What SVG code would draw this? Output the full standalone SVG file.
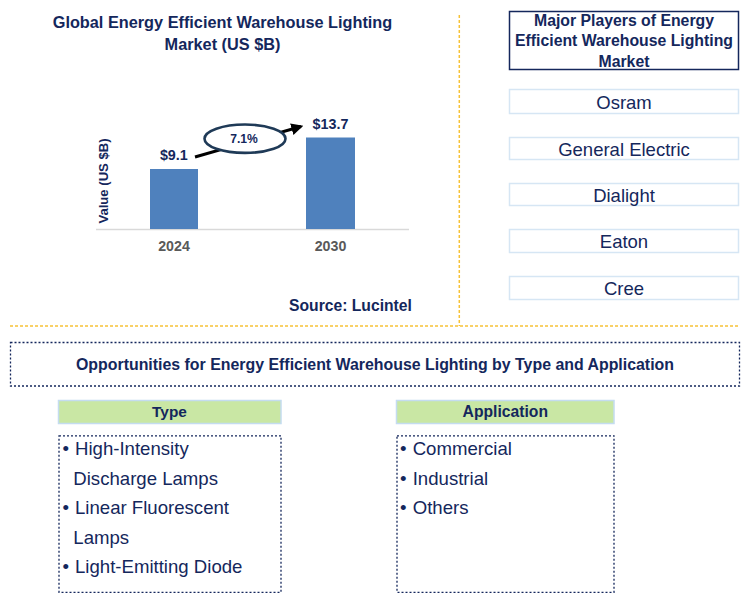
<svg xmlns="http://www.w3.org/2000/svg" width="751" height="609" viewBox="0 0 751 609">
<defs>
<style>
text{font-family:"Liberation Sans",Arial,sans-serif;fill:#14275c}
.b{font-weight:bold}
.t16{font-size:16px;font-weight:bold}
.lab{font-size:14.3px;font-weight:bold;text-anchor:middle}
.yr{font-size:14.2px;font-weight:bold;fill:#595959;text-anchor:middle}
.pl{font-size:18.5px;text-anchor:middle}
.li{font-size:18.6px}
.bu{font-size:18.6px;text-anchor:middle}
.gold{stroke:#f7c236;stroke-width:1.5;stroke-dasharray:3 2;fill:none}
.dot{fill:none;stroke:#14275c;stroke-width:1.3;stroke-dasharray:2 2}
.pbox{fill:#fff;stroke:#d6e6f4;stroke-width:1.5}
.hdr{fill:#c9e7a4;stroke:#c4dcf0;stroke-width:1.5}
.bar{fill:#4f81bd}
</style>
<marker id="ah" viewBox="0 0 10 10" refX="8" refY="5" markerWidth="4" markerHeight="4" orient="auto" markerUnits="strokeWidth">
<path d="M0,0 L10,5 L0,10 z" fill="#000"/>
</marker>
</defs>
<rect width="751" height="609" fill="#fff"/>

<g id="dividers">
<line class="gold" x1="459.3" y1="15" x2="459.3" y2="326"/>
<line class="gold" x1="10" y1="326" x2="740" y2="326"/>
</g>

<g id="chart">
<text class="t16" x="222.5" y="28" text-anchor="middle" style="font-size:16.3px">Global Energy Efficient Warehouse Lighting</text>
<text class="t16" x="222.5" y="50" text-anchor="middle" style="font-size:16.3px">Market (US $B)</text>
<text class="b" transform="translate(107.5,181) rotate(-90)" text-anchor="middle" style="font-size:13.1px">Value (US $B)</text>
<line x1="96" y1="229.5" x2="409" y2="229.5" stroke="#d9d9d9" stroke-width="1.5"/>
<rect class="bar" x="150" y="169" width="48" height="60"/>
<rect class="bar" x="306" y="137.5" width="49" height="91.5"/>
<text class="lab" x="173.8" y="159.5">$9.1</text>
<text class="lab" x="330.5" y="128.5">$13.7</text>
<text class="yr" x="174" y="250.5">2024</text>
<text class="yr" x="330.5" y="250.5">2030</text>
<text class="b" x="289" y="311" style="font-size:15.7px">Source: Lucintel</text>
</g>

<g id="connectors">
<line x1="195" y1="157" x2="301" y2="126.5" stroke="#000" stroke-width="3" marker-end="url(#ah)"/>
</g>

<g id="cagr">
<ellipse cx="245" cy="138.7" rx="40.5" ry="14.2" fill="#fff" stroke="#1f3a57" stroke-width="2.6"/>
<text class="b" x="244" y="143" text-anchor="middle" style="font-size:12.1px">7.1%</text>
</g>

<g id="players-header">
<rect x="509.5" y="11.5" width="229" height="58" fill="#fff" stroke="#14275c" stroke-width="1.5"/>
<text class="t16" x="624" y="25.5" text-anchor="middle" style="font-size:15.8px">Major Players of Energy</text>
<text class="t16" x="624" y="46" text-anchor="middle" style="font-size:15.8px">Efficient Warehouse Lighting</text>
<text class="t16" x="624" y="66.5" text-anchor="middle" style="font-size:15.8px">Market</text>
</g>
<g id="player-osram"><rect class="pbox" x="509.5" y="89.5" width="229" height="24"/><text class="pl" x="624" y="109">Osram</text></g>
<g id="player-ge"><rect class="pbox" x="509.5" y="137.5" width="229" height="22"/><text class="pl" x="624" y="155.5">General Electric</text></g>
<g id="player-dialight"><rect class="pbox" x="509.5" y="183.5" width="229" height="22"/><text class="pl" x="624" y="201.7">Dialight</text></g>
<g id="player-eaton"><rect class="pbox" x="509.5" y="229.5" width="229" height="23"/><text class="pl" x="624" y="248">Eaton</text></g>
<g id="player-cree"><rect class="pbox" x="509.5" y="276.5" width="229" height="23"/><text class="pl" x="624" y="295">Cree</text></g>

<g id="opportunities">
<rect class="dot" x="10.5" y="342.5" width="729" height="43.5"/>
<text class="t16" x="375" y="370" text-anchor="middle" style="font-size:15.9px">Opportunities for Energy Efficient Warehouse Lighting by Type and Application</text>
</g>

<g id="type">
<rect class="hdr" x="58.5" y="400.5" width="222.5" height="23"/>
<text class="b" x="169.5" y="417" text-anchor="middle" style="font-size:15.4px">Type</text>
<rect class="dot" x="59" y="435.8" width="222" height="156.5"/>
<text class="bu" x="65.7" y="455">•</text><text class="li" x="75" y="455">High-Intensity</text>
<text class="li" x="73.3" y="484.5">Discharge Lamps</text>
<text class="bu" x="65.7" y="514.3">•</text><text class="li" x="75" y="514.3">Linear Fluorescent</text>
<text class="li" x="73.3" y="543.5">Lamps</text>
<text class="bu" x="65.7" y="573.3">•</text><text class="li" x="75" y="573.3">Light-Emitting Diode</text>
</g>

<g id="application">
<rect class="hdr" x="396.5" y="400.5" width="217.5" height="23"/>
<text class="b" x="505.3" y="417" text-anchor="middle" style="font-size:15.7px">Application</text>
<rect class="dot" x="397" y="435.8" width="217" height="156.5"/>
<text class="bu" x="403.3" y="455">•</text><text class="li" x="412.7" y="455">Commercial</text>
<text class="bu" x="403.3" y="484.5">•</text><text class="li" x="412.7" y="484.5">Industrial</text>
<text class="bu" x="403.3" y="514.3">•</text><text class="li" x="412.7" y="514.3">Others</text>
</g>
</svg>
